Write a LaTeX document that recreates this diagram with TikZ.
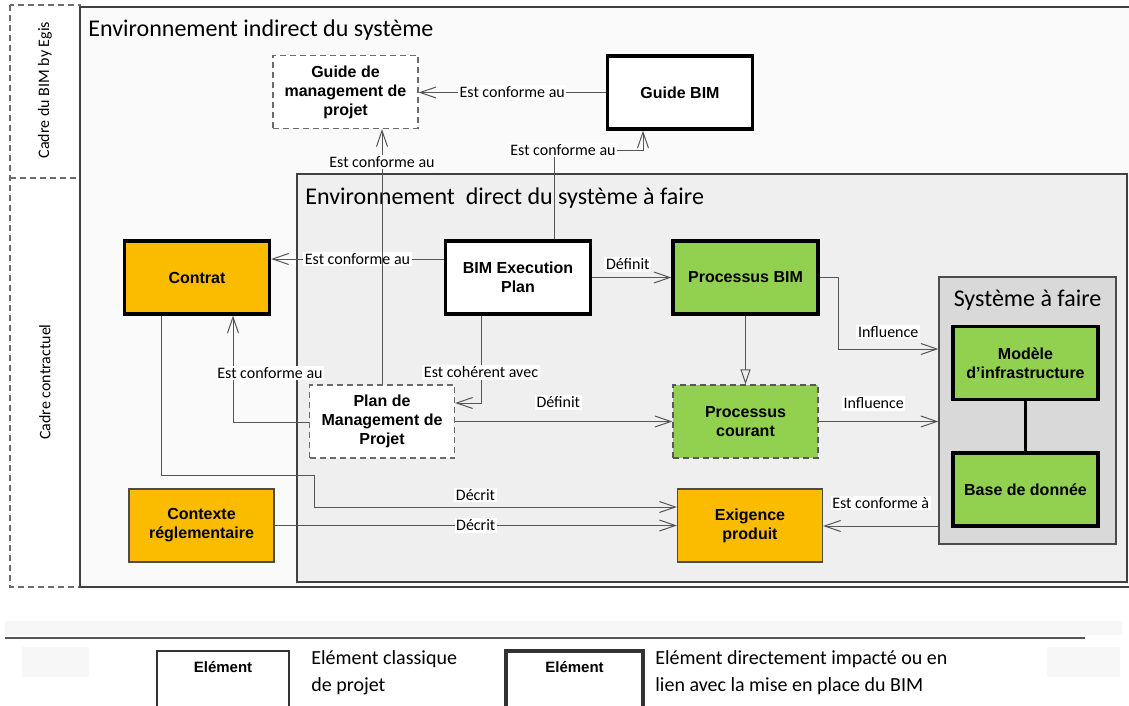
\documentclass[tikz,border=0pt]{standalone}
\usepackage{fontspec}
\setmainfont{Carlito}
\newfontfamily\arialfont{Liberation Sans}
\usetikzlibrary{arrows.meta, positioning}
\definecolor{bimOrange}{HTML}{FBBC00}
\definecolor{bimGreen}{HTML}{92D050}
\definecolor{bimFrame}{HTML}{FAFAFA}
\definecolor{bimDirect}{HTML}{EFEFEF}
\definecolor{bimSystem}{HTML}{D9D9D9}
\definecolor{bimLine}{HTML}{555555}
\definecolor{bimMute}{HTML}{6B6B6B}
\definecolor{bimFaint}{HTML}{F7F7F7}
\tikzset{
  bimnode/.style={
    draw, minimum width=72.5pt, minimum height=36.5pt, inner sep=1pt,
    font=\fontsize{8}{9.5}\selectfont\arialfont\bfseries, align=center
  },
  classic/.style={bimnode, fill=white, draw=bimMute, line width=0.6pt, dash pattern=on 3pt off 2pt},
  impact/.style={bimnode, fill=white, draw=black, line width=1.6pt},
  contractbox/.style={impact, fill=bimOrange},
  bimgreen/.style={impact, fill=bimGreen},
  currentbox/.style={bimnode, fill=bimGreen, draw=black!65, line width=0.6pt, dash pattern=on 3pt off 2pt},
  reqbox/.style={bimnode, fill=bimOrange, draw=black!70, line width=0.6pt},
  sysbox/.style={draw=black!70, fill=bimSystem, line width=0.6pt, minimum width=88.5pt, minimum height=133.5pt},
  frametitle/.style={font=\fontsize{12}{14}\selectfont, inner sep=0pt},
  sidetitle/.style={font=\fontsize{8}{9}\selectfont, rotate=90, inner sep=0pt},
  conn/.style={-{Straight Barb[length=8pt, width=5.5pt]}, line width=0.5pt, draw=bimLine},
  derive/.style={-{Triangle[open, length=7.5pt, width=5pt]}, line width=0.5pt, draw=bimLine},
  lbl/.style={font=\fontsize{8}{9}\selectfont, fill=white, inner sep=0.8pt},
  legbox/.style={draw=black!80, fill=white, minimum width=66pt, text height=6pt, text depth=19.5pt,
    inner ysep=4.5pt, font=\fontsize{7.5}{9}\selectfont\arialfont\bfseries},
  legtext/.style={font=\fontsize{10}{13.5}\selectfont, align=left, anchor=west, inner sep=0pt}
}

\begin{document}
\begin{tikzpicture}[x=0.5pt, y=-0.5pt]
  \useasboundingbox (0,0) rectangle (1129,706);
  % frames
  \draw[bimMute, line width=0.6pt, dash pattern=on 3pt off 2pt] (10,5) rectangle (80,587);
  \draw[bimMute, line width=0.6pt, dash pattern=on 3pt off 2pt] (10,178) -- (80,178);
  \draw[fill=bimFrame, draw=black!75, line width=0.9pt] (80,7) rectangle (1140,587);
  \draw[fill=bimDirect, draw=black!75, line width=0.8pt] (297,174) rectangle (1127,582);
  \node[sidetitle] (cadrebim) at (45,90) {Cadre du BIM by Egis};
  \node[sidetitle] (cadrecontrat) at (45,382) {Cadre contractuel};
  \node[frametitle, anchor=west] (indirect) at (88,30.5) {Environnement indirect du système};
  \node[frametitle, anchor=west] (direct) at (305,198) {Environnement\ \ direct du système à faire};
  \node[sysbox] (sys) at (1027.5,410.5) {};
  \node[frametitle] (systitle) at (1027.5,300) {Système à faire};

  % elements
  \node[classic] (gmp) at (345.5,92) {Guide de\\management de\\projet};
  \node[impact] (gbim) at (680,92.5) {Guide BIM};
  \node[contractbox] (contrat) at (197,277.5) {Contrat};
  \node[impact] (bep) at (518,277.5) {BIM Execution\\Plan};
  \node[bimgreen] (pbim) at (745.5,277.5) {Processus BIM};
  \node[classic] (pmp) at (382,421.5) {Plan de\\Management de\\Projet};
  \node[currentbox] (pc) at (745.5,421.5) {Processus\\courant};
  \node[bimgreen] (modele) at (1025.5,363) {Modèle\\d’infrastructure};
  \node[bimgreen] (base) at (1025.5,489.5) {Base de donnée};
  \node[reqbox] (contexte) at (201.5,525.5) {Contexte\\réglementaire};
  \node[reqbox] (exigence) at (750,525.5) {Exigence\\produit};

  % relations
  \draw[conn] (gbim.west) -- node[lbl]{Est conforme au} (gbim.west -| gmp.east);
  \draw[conn] (bep.north -| 554,0) -- (554,150) node[lbl, xshift=4.5pt]{Est conforme au}
    -- (643,150) -- (gbim.south -| 643,0);
  \draw[conn] (bep.west |- 0,259) -- node[lbl]{Est conforme au} (contrat.east |- 0,259);
  \draw[conn] (pmp.north) -- node[lbl, pos=0.87]{Est conforme au} (pmp.north |- gmp.south);
  \draw[conn] (pmp.west |- 0,422) -- (233,422)
    -- node[lbl, pos=0.46, xshift=18.5pt]{Est conforme au} (contrat.south -| 233,0);
  \draw[conn] (bep.south -| 481,0) -- node[lbl, pos=0.65]{Est cohérent avec} (481,403)
    -- (pmp.east |- 0,403);
  \draw[conn] (pmp.east) -- node[lbl, pos=0.475, yshift=9.5pt]{Définit} (pc.west);
  \draw[conn] (bep.east) -- node[lbl, pos=0.45, yshift=6.5pt]{Définit} (pbim.west);
  \draw[derive] (pbim.south) -- (pc.north);
  \draw[conn] (pbim.east) -- (838,277.5) -- (838,349)
    -- node[lbl, yshift=8.5pt]{Influence} (sys.west |- 0,349);
  \draw[conn] (pc.east) -- node[lbl, pos=0.46, yshift=9pt]{Influence} (pc.east -| sys.west);
  \draw[conn] (sys.west |- 0,526) -- node[lbl, yshift=11.5pt]{Est conforme à} (exigence.east |- 0,526);
  \draw[conn] (contrat.south -| 161,0) -- (161,475) -- (314,475) -- (314,507)
    -- node[lbl, pos=0.445, yshift=6pt]{Décrit} (exigence.west |- 0,507);
  \draw[conn] (contexte.east) -- node[lbl]{Décrit} (contexte.east -| exigence.west);
  \draw[line width=1.6pt] (modele) -- (base);

  % legend
  \fill[bimFaint] (5,621) rectangle (1122,635);
  \fill[bimFaint] (22,647) rectangle (89,677);
  \fill[bimFaint] (1047,647) rectangle (1120,677);
  \draw[bimLine, line width=0.6pt] (5,638) -- (1085,638);
  \node[legbox, line width=0.6pt, anchor=base] (legclassic) at (223,672) {Elément};
  \node[legtext] (legclassictxt) at (311,673) {Elément classique\\de projet};
  \node[legbox, line width=1.6pt, minimum width=68.5pt, anchor=base] (legimpact) at (574.5,672) {Elément};
  \node[legtext] (legimpacttxt) at (655,673) {Elément directement impacté ou en\\lien avec la mise en place du BIM};
\end{tikzpicture}
\end{document}
